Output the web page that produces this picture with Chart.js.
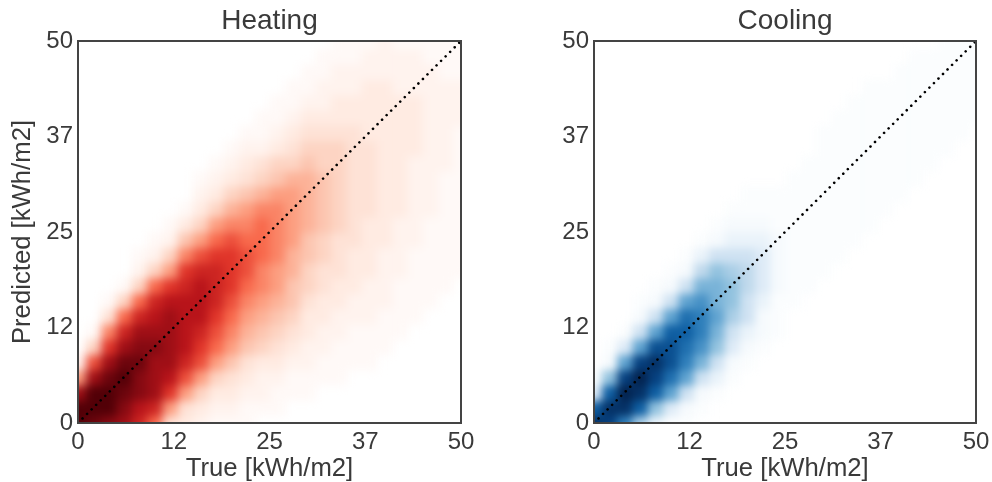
<!DOCTYPE html>
<html>
<head>
<meta charset="utf-8">
<style>
  html, body { margin: 0; padding: 0; background: #fff; }
  .axes { position: absolute; top: 0; }
  .plot { position: absolute; top: 41px; width: 383px; height: 382px; overflow: hidden; }
  .plot canvas { position: absolute; left: -30.5px; top: -30.5px; }
  #heatingDensity { filter: blur(5px); }
  #coolingDensity { filter: blur(4px); }
</style>
<script src="https://cdn.jsdelivr.net/npm/chart.js@4/dist/chart.umd.min.js"></script>
</head>
<body>
<div class="plot" style="left:78px"><canvas id="heatingDensity" width="444" height="443"></canvas></div>
<div class="plot" style="left:594px"><canvas id="coolingDensity" width="444" height="443"></canvas></div>
<canvas id="heating" class="axes" style="left:0" width="496" height="482"></canvas>
<canvas id="cooling" class="axes" style="left:496px" width="496" height="482"></canvas>
<script>
const tickValues = [0, 12.5, 25, 37.5, 50];
const tickLabels = ['0', '12', '25', '37', '50'];

const binSize = 2; // kWh/m2 per cell

// density on a 0-18 scale.
// one list per true value (0, 2, 4 ... 50), going up from predicted 0; missing cells are empty
const heatingColumns = [
  [18, 18, 15, 8, 2],
  [17, 18, 18, 15, 11, 5, 1],
  [16, 18, 18, 17, 15, 12, 9, 4, 1],
  [15, 16, 17, 18, 17, 15, 13, 10, 5, 1],
  [13, 14, 16, 16, 17, 16, 15, 13, 10, 5, 2, 1],
  [10, 13, 15, 15, 15, 16, 15, 14, 13, 10, 5, 2, 1],
  [4, 8, 12, 14, 15, 15, 15, 15, 14, 12, 8, 5, 2, 1],
  [3, 4, 8, 11, 13, 14, 14, 14, 14, 13, 12, 9, 6, 3, 1],
  [2, 3, 5, 8, 11, 12, 13, 14, 14, 14, 13, 11, 8, 5, 3, 2, 1],
  [1, 2, 3, 5, 8, 10, 11, 12, 13, 13, 13, 12, 10, 8, 5, 3, 2, 1],
  [1, 2, 3, 4, 6, 8, 9, 10, 11, 12, 12, 12, 11, 9, 7, 5, 3, 2, 1],
  [1, 1, 2, 3, 4, 6, 7, 8, 9, 10, 11, 11, 10, 9, 8, 6, 4, 3, 2, 1],
  [0, 1, 2, 2, 3, 5, 6, 7, 8, 9, 9, 10, 10, 10, 9, 7, 5, 4, 2, 1, 1],
  [0, 1, 1, 2, 3, 4, 5, 6, 7, 8, 8, 9, 9, 9, 9, 8, 6, 5, 3, 2, 1, 1],
  [0, 0, 1, 1, 2, 3, 4, 5, 6, 6, 7, 7, 8, 8, 8, 8, 7, 5, 4, 3, 2, 1, 1],
  [0, 0, 1, 1, 2, 2, 3, 3, 4, 5, 5, 6, 6, 7, 7, 7, 7, 6, 5, 4, 3, 2, 1, 1],
  [0, 0, 0, 1, 1, 2, 2, 3, 3, 4, 4, 5, 5, 6, 6, 6, 6, 5, 5, 4, 3, 2, 2, 1, 1],
  [0, 0, 0, 1, 1, 1, 2, 2, 3, 3, 4, 4, 4, 5, 5, 5, 5, 5, 5, 4, 3, 3, 2, 2, 1, 1],
  [0, 0, 0, 0, 1, 1, 1, 2, 2, 3, 3, 3, 4, 4, 4, 4, 4, 4, 4, 4, 3, 3, 2, 2, 1, 1],
  [0, 0, 0, 0, 1, 1, 1, 2, 2, 2, 3, 3, 3, 3, 4, 4, 4, 4, 4, 3, 3, 3, 3, 2, 2, 1],
  [0, 0, 0, 0, 0, 1, 1, 1, 2, 2, 2, 2, 3, 3, 3, 3, 3, 3, 3, 3, 3, 3, 3, 2, 2, 2],
  [0, 0, 0, 0, 0, 0, 1, 1, 1, 1, 2, 2, 2, 2, 3, 3, 3, 3, 3, 3, 3, 3, 2, 2, 2, 1],
  [0, 0, 0, 0, 0, 0, 0, 1, 1, 1, 1, 1, 2, 2, 2, 2, 2, 2, 3, 3, 3, 3, 2, 2, 2, 1],
  [0, 0, 0, 0, 0, 0, 0, 0, 1, 1, 1, 1, 1, 1, 2, 2, 2, 2, 2, 2, 2, 2, 2, 2, 1, 1],
  [0, 0, 0, 0, 0, 0, 0, 0, 0, 1, 1, 1, 1, 1, 1, 1, 1, 2, 2, 2, 2, 2, 2, 1, 1, 1],
  [0, 0, 0, 0, 0, 0, 0, 0, 0, 0, 1, 1, 1, 1, 1, 1, 1, 1, 1, 1, 2, 2, 2, 1, 1, 1]
];
const coolingColumns = [
  [17, 14, 4, 1],
  [16, 17, 14, 8, 2, 1],
  [12, 17, 18, 16, 10, 4, 1],
  [7, 14, 17, 18, 16, 10, 5, 2, 1],
  [3, 8, 14, 16, 17, 15, 10, 5, 2, 1],
  [1, 4, 10, 13, 15, 15, 14, 10, 5, 2, 1],
  [1, 2, 5, 10, 12, 13, 14, 13, 10, 5, 2, 1],
  [0, 1, 2, 5, 9, 11, 12, 12, 11, 9, 6, 3, 1],
  [0, 0, 1, 3, 5, 8, 9, 10, 9, 9, 8, 5, 2, 1],
  [0, 0, 0, 1, 2, 4, 5, 7, 8, 8, 7, 5, 3, 2, 1],
  [0, 0, 0, 0, 1, 2, 3, 5, 5, 6, 6, 5, 3, 2, 1, 1],
  [0, 0, 0, 0, 0, 1, 2, 2, 3, 4, 4, 4, 3, 2, 1, 1],
  [0, 0, 0, 0, 0, 0, 1, 1, 1, 2, 2, 2, 2, 1, 1, 1],
  [0, 0, 0, 0, 0, 0, 0, 0, 1, 1, 1, 1, 1, 1, 1, 1, 1],
  [0, 0, 0, 0, 0, 0, 0, 0, 0, 1, 1, 1, 1, 1, 1, 1, 1, 1],
  [0, 0, 0, 0, 0, 0, 0, 0, 0, 0, 1, 1, 1, 1, 1, 1, 1, 1, 1, 1],
  [0, 0, 0, 0, 0, 0, 0, 0, 0, 0, 0, 1, 1, 1, 1, 1, 1, 1, 1, 1, 1],
  [0, 0, 0, 0, 0, 0, 0, 0, 0, 0, 0, 0, 1, 1, 1, 1, 1, 1, 1, 1, 1, 1],
  [0, 0, 0, 0, 0, 0, 0, 0, 0, 0, 0, 0, 0, 1, 1, 1, 1, 1, 1, 1, 1, 1, 1],
  [0, 0, 0, 0, 0, 0, 0, 0, 0, 0, 0, 0, 0, 0, 1, 1, 1, 1, 1, 1, 1, 1, 1],
  [0, 0, 0, 0, 0, 0, 0, 0, 0, 0, 0, 0, 0, 0, 0, 1, 1, 1, 1, 1, 1, 1, 1, 1],
  [0, 0, 0, 0, 0, 0, 0, 0, 0, 0, 0, 0, 0, 0, 0, 0, 1, 1, 1, 1, 1, 1, 1, 1, 1],
  [0, 0, 0, 0, 0, 0, 0, 0, 0, 0, 0, 0, 0, 0, 0, 0, 0, 1, 1, 1, 1, 1, 1, 1, 1],
  [0, 0, 0, 0, 0, 0, 0, 0, 0, 0, 0, 0, 0, 0, 0, 0, 0, 0, 1, 1, 1, 1, 1, 1, 1, 1],
  [0, 0, 0, 0, 0, 0, 0, 0, 0, 0, 0, 0, 0, 0, 0, 0, 0, 0, 0, 1, 1, 1, 1, 1, 1, 1],
  [0, 0, 0, 0, 0, 0, 0, 0, 0, 0, 0, 0, 0, 0, 0, 0, 0, 0, 0, 0, 1, 1, 1, 1, 1, 1]
];

const diagonal = [{ x: 0, y: 0 }, { x: 50, y: 50 }];

// colour at density 0, 2, 4 ... 18
const redRamp = ['#ffffff', '#fff3ee', '#fee2d6', '#fcc5b0', '#fc9e80', '#f8694c', '#e0352a', '#b8141a', '#860a12', '#520007'];
const blueRamp = ['#ffffff', '#f6fafd', '#deebf7', '#c0d9ec', '#93c3df', '#5fa3d0', '#2f7fbb', '#0f5fa3', '#06407f', '#04234f'];

const textColor = '#3a3a3a';
const frameColor = '#444444';
const fontFamily = '"Liberation Sans", Arial, sans-serif';

function rampColor(ramp, v) {
    const low = Math.floor(v / 2);
    const high = Math.min(low + 1, ramp.length - 1);
    const mix = v / 2 - low;
    const rgb = [1, 3, 5].map(i => {
        const a = parseInt(ramp[low].substr(i, 2), 16);
        const b = parseInt(ramp[high].substr(i, 2), 16);
        return Math.round(a + (b - a) * mix);
    });
    return 'rgb(' + rgb.join(',') + ')';
}

function toCells(columns) {
    const cells = [];
    columns.forEach((col, i) => {
        col.forEach((v, j) => {
            if (v === 0) return;
            const x = i * binSize, y = j * binSize;
            cells.push({ x: x, y: y, v: v });
            // repeat the edge cells past the axes, otherwise the blur fades the dark corner
            if (i === 0) cells.push({ x: -binSize, y: y, v: v });
            if (j === 0) cells.push({ x: x, y: -binSize, v: v });
            if (i === 0 && j === 0) cells.push({ x: -binSize, y: -binSize, v: v });
        });
    });
    return cells;
}

function makeDensity(id, columns, ramp) {
    new Chart(document.getElementById(id).getContext('2d'), {
        type: 'scatter',
        data: {
            datasets: [{
                data: toCells(columns),
                pointStyle: 'rect',
                pointBorderWidth: 0,
                pointBackgroundColor: ctx => rampColor(ramp, ctx.raw.v),
                pointRadius: ctx => {
                    const x = ctx.chart.scales.x;
                    return (x.getPixelForValue(binSize) - x.getPixelForValue(0)) * Math.SQRT1_2 + 0.5;
                }
            }]
        },
        options: {
            responsive: false,
            animation: false,
            events: [],
            layout: { autoPadding: false },
            plugins: { legend: { display: false }, tooltip: { enabled: false } },
            // bleed on every side so the blur does not fade at the frame
            scales: {
                x: { display: false, min: -4, max: 54 },
                y: { display: false, min: -4, max: 54 }
            }
        }
    });
}

function axis(label, fixedSize, withLabel) {
    return {
        type: 'linear',
        min: 0,
        max: 50,
        grid: { display: false, drawTicks: false },
        border: { display: false },
        afterBuildTicks: scale => { scale.ticks = tickValues.map(v => ({ value: v })); },
        afterFit: scale => {
            if (scale.isHorizontal()) scale.height = fixedSize;
            else scale.width = fixedSize;
            // the "50" label must not push the plot in
            scale.paddingLeft = scale.paddingRight = scale.paddingTop = scale.paddingBottom = 0;
        },
        ticks: {
            autoSkip: false,
            maxRotation: 0,
            padding: 5,
            color: textColor,
            font: { family: fontFamily, size: 24 },
            callback: (value, i) => tickLabels[i]
        },
        title: {
            display: withLabel,
            text: label,
            color: textColor,
            padding: { top: 10, bottom: 0 },
            font: { family: fontFamily, size: 25.7, lineHeight: 1 }
        }
    };
}

const framePlugin = {
    id: 'frame',
    afterDatasetsDraw(chart) {
        const a = chart.chartArea;
        chart.ctx.strokeStyle = frameColor;
        chart.ctx.lineWidth = 2;
        chart.ctx.strokeRect(a.left, a.top, a.right - a.left, a.bottom - a.top);
    }
};

function makeAxes(id, title, yWidth, rightPad, withYLabel) {
    new Chart(document.getElementById(id).getContext('2d'), {
        type: 'scatter',
        data: {
            datasets: [{
                data: diagonal,
                showLine: true,
                fill: false,
                borderColor: '#000000',
                borderWidth: 2.6,
                borderDash: [0.01, 6.4],
                borderCapStyle: 'round',
                pointRadius: 0
            }]
        },
        plugins: [framePlugin],
        options: {
            responsive: false,
            animation: false,
            events: [],
            layout: { autoPadding: false, padding: { left: 0, right: rightPad, top: 0, bottom: 0 } },
            plugins: {
                legend: { display: false },
                tooltip: { enabled: false },
                title: {
                    display: true,
                    fullSize: false,
                    text: title,
                    color: textColor,
                    font: { family: fontFamily, size: 28, weight: 'normal', lineHeight: 1.2 },
                    padding: { top: 4, bottom: 3.4 }
                }
            },
            scales: {
                x: axis('True [kWh/m2]', 59, true),
                y: axis('Predicted [kWh/m2]', yWidth, withYLabel)
            }
        }
    });
}

makeDensity('heatingDensity', heatingColumns, redRamp);
makeDensity('coolingDensity', coolingColumns, blueRamp);
makeAxes('heating', 'Heating', 78, 35, true);
makeAxes('cooling', 'Cooling', 98, 16, false);
</script>
</body>
</html>
